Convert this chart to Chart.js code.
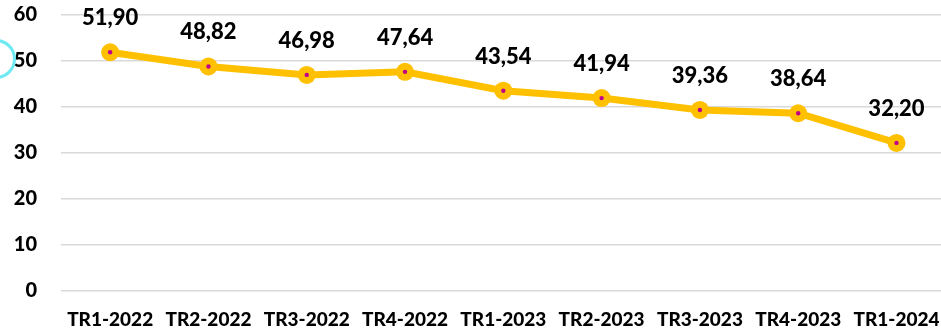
<!DOCTYPE html>
<html>
<head>
<meta charset="utf-8">
<script src="https://cdn.jsdelivr.net/npm/chart.js@4.4.1/dist/chart.umd.min.js"></script>
<style>
  html, body { margin: 0; padding: 0; background: #fff; overflow: hidden; }
  #wrap { position: relative; width: 941px; height: 331px; overflow: hidden; }
  #chart { position: absolute; left: 0; top: -21px; }
  .ring {
    position: absolute; left: -24px; top: 39px;
    width: 34px; height: 34px; border-radius: 50%;
    border: 3px solid #6FEAF2;
  }
</style>
</head>
<body>
<div id="wrap">
  <canvas id="chart" width="957" height="352"></canvas>
  <div class="ring"></div>
</div>
<script>
const quarters = ['TR1-2022', 'TR2-2022', 'TR3-2022', 'TR4-2022', 'TR1-2023', 'TR2-2023', 'TR3-2023', 'TR4-2023', 'TR1-2024'];
const values   = [51.90, 48.82, 46.98, 47.64, 43.54, 41.94, 39.36, 38.64, 32.20];
const yTicks   = [0, 10, 20, 30, 40, 50, 60];

const GOLD = '#FFC000';
const FONT = 'Lato, "Open Sans", sans-serif';

// valeurs au-dessus des points, format virgule
const valueLabels = {
  id: 'valueLabels',
  afterDatasetsDraw(chart) {
    const { ctx } = chart;
    const meta = chart.getDatasetMeta(0);
    ctx.save();
    ctx.font = `900 22px ${FONT}`;
    ctx.fillStyle = '#000';
    ctx.textAlign = 'center';
    ctx.textBaseline = 'alphabetic';
    meta.data.forEach((pt, i) => {
      ctx.fillText(values[i].toFixed(2).replace('.', ','), pt.x, pt.y - 27);
    });
    ctx.restore();
  },
};

new Chart(document.getElementById('chart'), {
  type: 'line',
  data: {
    labels: quarters,
    datasets: [
      {
        data: values,
        order: 1,
        borderColor: GOLD,
        borderWidth: 7,
        pointRadius: 9,
        pointBackgroundColor: GOLD,
        pointBorderWidth: 0,
        tension: 0,
      },
      {
        // petit marqueur central
        data: values,
        order: 0,
        showLine: false,
        pointRadius: 2.2,
        pointBackgroundColor: '#C0008A',
        pointBorderWidth: 0,
      },
    ],
  },
  options: {
    responsive: false,
    animation: false,
    layout: { padding: { top: 14, right: 0, left: 0, bottom: 0 } },
    plugins: { legend: { display: false }, tooltip: { enabled: false } },
    scales: {
      x: {
        offset: true,
        grid: { display: false, drawTicks: false },
        border: { display: false },
        ticks: {
          padding: 17,
          color: '#000',
          font: { family: FONT, weight: 900, size: 19 },
          maxRotation: 0,
          autoSkip: false,
        },
        afterFit(scale) { scale.height = 40; },
      },
      y: {
        min: 0,
        max: 60,
        afterBuildTicks(scale) { scale.ticks = yTicks.map(v => ({ value: v })); },
        grid: { color: '#D9D9D9', lineWidth: 1.5, drawTicks: false },
        border: { display: false },
        ticks: {
          padding: 24,
          color: '#000',
          font: { family: FONT, weight: 900, size: 20 },
        },
        afterFit(scale) { scale.width = 61; },
      },
    },
  },
  plugins: [valueLabels],
});
</script>
</body>
</html>
